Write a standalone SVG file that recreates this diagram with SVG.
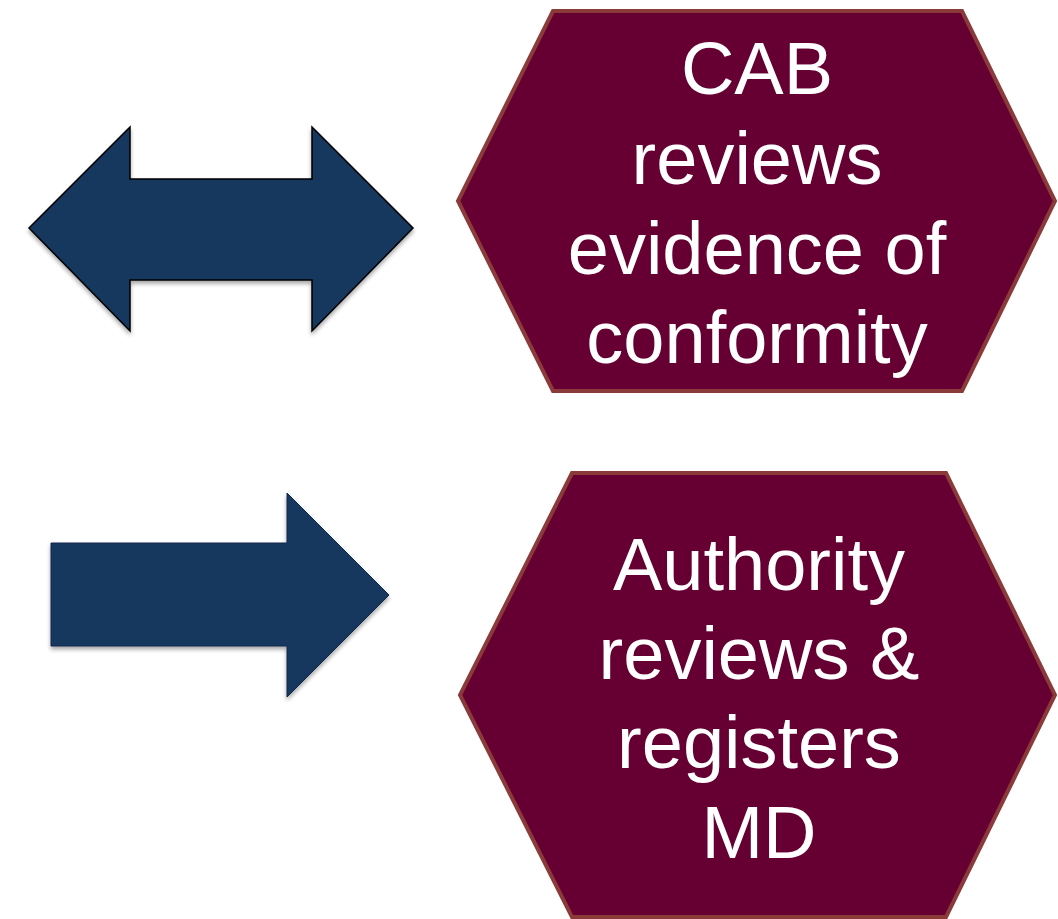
<svg xmlns="http://www.w3.org/2000/svg" width="1058" height="919" viewBox="0 0 1058 919">
  <defs>
    <filter id="soft-shadow" x="-10%" y="-10%" width="120%" height="130%">
      <feGaussianBlur in="SourceAlpha" stdDeviation="2"/>
      <feOffset dx="0" dy="3" result="blur"/>
      <feComponentTransfer><feFuncA type="linear" slope="0.35"/></feComponentTransfer>
      <feMerge><feMergeNode/><feMergeNode in="SourceGraphic"/></feMerge>
    </filter>
  </defs>
  <style>
    .arrow { fill: #17375e; filter: url(#soft-shadow); }
    .hex { fill: #660033; stroke: #8b3a3a; stroke-width: 4; stroke-linejoin: miter; }
    .label { font-family: "Liberation Sans", Arial, sans-serif; font-size: 74px; fill: #ffffff; text-anchor: middle; }
  </style>

  <g id="connectors">
    <!-- two-way arrow beside the first step -->
    <path id="arrow-both" class="arrow" stroke="#000000" stroke-width="1.5" stroke-linejoin="miter"
          d="M29,228 L130,127 L130,179 L312,179 L312,127 L413,228 L312,331 L312,280 L130,280 L130,331 Z"/>
    <!-- one-way arrow beside the second step -->
    <path id="arrow-right" class="arrow" stroke="#10284a" stroke-width="1"
          d="M51,543 L287,543 L287,493 L389,595 L287,697 L287,646 L51,646 Z"/>
  </g>

  <g id="node-cab">
    <polygon class="hex" points="553,11 962,11 1055,201 962,391 553,391 458,201"/>
    <text class="label" x="757" y="94">CAB</text>
    <text class="label" x="757" y="184">reviews</text>
    <text class="label" x="757" y="274">evidence of</text>
    <text class="label" x="757" y="363">conformity</text>
  </g>

  <g id="node-authority">
    <polygon class="hex" points="572,473 946,473 1055,695 946,917 572,917 460,695"/>
    <text class="label" x="759" y="590">Authority</text>
    <text class="label" x="759" y="679">reviews &amp;</text>
    <text class="label" x="759" y="768">registers</text>
    <text class="label" x="759" y="858">MD</text>
  </g>
</svg>
